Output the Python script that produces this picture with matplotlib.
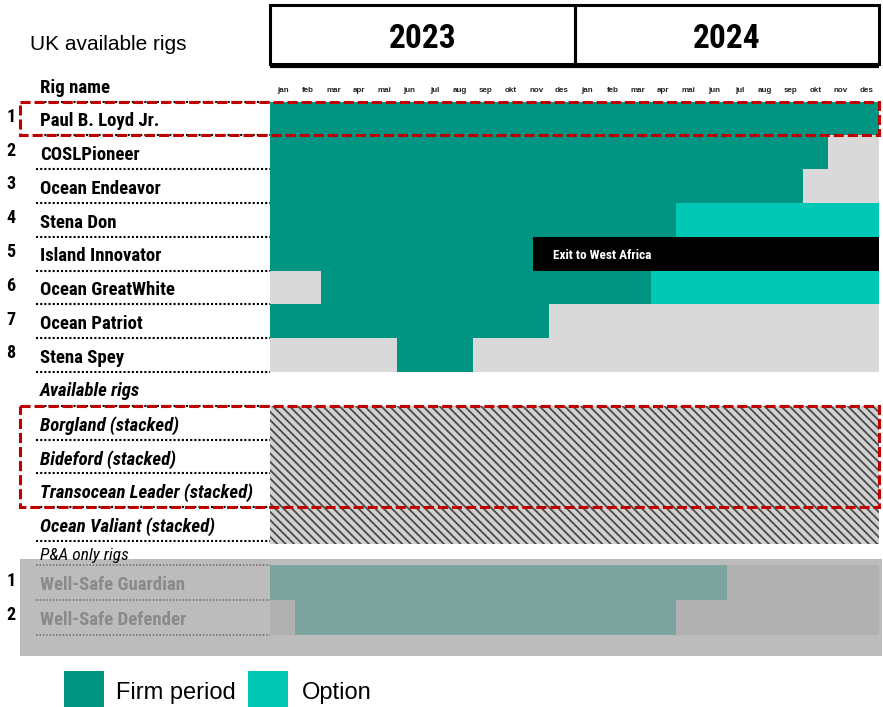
import matplotlib.pyplot as plt
import matplotlib.transforms as mtransforms
from matplotlib.patches import Rectangle

# ---- data ----
years = ["2023", "2024"]
months = ["jan", "feb", "mar", "apr", "mai", "jun", "jul", "aug", "sep", "okt", "nov", "des"]

rigs = ["Paul B. Loyd Jr.", "COSLPioneer", "Ocean Endeavor", "Stena Don",
        "Island Innovator", "Ocean GreatWhite", "Ocean Patriot", "Stena Spey"]
firm_start = [0, 0, 0, 0, 0, 2, 0, 5]
firm_end = [24, 22, 21, 16, 24, 15, 11, 8]
option_start = [None, None, None, 16, None, 15, None, None]
option_end = [None, None, None, 24, None, 24, None, None]

exit_rig = "Island Innovator"
exit_start = 10.35
exit_label = "Exit to West Africa"

stacked_rigs = ["Borgland (stacked)", "Bideford (stacked)",
                "Transocean Leader (stacked)", "Ocean Valiant (stacked)"]

pa_rigs = ["Well-Safe Guardian", "Well-Safe Defender"]
pa_start = [0, 1]
pa_end = [18, 16]

# ---- style ----
FIRM = "#009482"
OPTION = "#00c8b4"
IDLE = "#d9d9d9"
PA_FIRM = "#7da39e"
PA_IDLE = "#b1b1b1"
PA_BG = "#bcbcbc"
RED = "#c00000"
NARROW = ["Roboto Condensed", "DejaVu Sans"]
LBL = 13.5
plt.rcParams["font.family"] = ["Liberation Sans", "DejaVu Sans"]
plt.rcParams["hatch.linewidth"] = 1.3

fig = plt.figure(figsize=(8.83, 7.07), dpi=100)
W, H = 883, 707

# background axes in pixel units for layout pieces
bg = fig.add_axes([0, 0, 1, 1])
bg.set_xlim(0, W)
bg.set_ylim(H, 0)
bg.axis("off")

# gantt axes: x in months, y in rows
top_px, bot_px = 101.5, 635
ax = fig.add_axes([270 / W, 1 - bot_px / H, 609 / W, (bot_px - top_px) / H])
ax.set_xlim(0, 24)
ax.set_ylim(15.78, 0)
ax.axis("off")
ax.patch.set_alpha(0)

lbl = mtransforms.blended_transform_factory(bg.transData, ax.transData)
hdr = mtransforms.blended_transform_factory(ax.transData, bg.transData)

# P&A grey panel
bg.add_patch(Rectangle((20, 559), 862, 97, facecolor=PA_BG, edgecolor="none", zorder=0))

# main rigs
for i, name in enumerate(rigs):
    ax.barh(i, 24, left=0, height=1, align="edge", color=IDLE, linewidth=0)
    ax.barh(i, firm_end[i] - firm_start[i], left=firm_start[i], height=1,
            align="edge", color=FIRM, linewidth=0)
    if option_start[i] is not None:
        ax.barh(i, option_end[i] - option_start[i], left=option_start[i], height=1,
                align="edge", color=OPTION, linewidth=0)
    if name == exit_rig:
        ax.barh(i, 24 - exit_start, left=exit_start, height=1, align="edge",
                color="black", linewidth=0)
        ax.text(exit_start + 0.8, i + 0.55, exit_label, color="white", fontsize=9.5,
                fontweight="bold", va="center", family=NARROW)
    bg.text(11, i + 0.45, str(i + 1), transform=lbl, fontsize=13, fontweight="bold",
            ha="center", va="center", family=NARROW)
    bg.text(40, i + 0.58, name, transform=lbl, fontsize=LBL, fontweight="bold",
            va="center", family=NARROW)

# available (stacked) rigs
hdr_row = len(rigs)
bg.text(40, hdr_row + 0.55, "Available rigs", transform=lbl, fontsize=LBL,
        fontweight="bold", style="italic", va="center", family=NARROW)
for j, name in enumerate(stacked_rigs):
    r = hdr_row + 1 + j
    ax.barh(r, 24, left=0, height=1 if j < len(stacked_rigs) - 1 else 1.1, align="edge",
            color="#d2d2d2", edgecolor="#4a4a4a", hatch="\\\\\\\\", linewidth=0)
    bg.text(40, r + 0.58, name, transform=lbl, fontsize=LBL, fontweight="bold",
            style="italic", va="center", family=NARROW)

# P&A rigs
pa_top = 13.72
pa_h = 1.03
bg.text(40, pa_top - 0.3, "P&A only rigs", transform=lbl, fontsize=12.5,
        style="italic", va="center", family=NARROW)
for k, name in enumerate(pa_rigs):
    r = pa_top + k * pa_h
    ax.barh(r, 24, left=0, height=pa_h, align="edge", color=PA_IDLE, linewidth=0)
    ax.barh(r, pa_end[k] - pa_start[k], left=pa_start[k], height=pa_h, align="edge",
            color=PA_FIRM, linewidth=0)
    bg.text(11, r + 0.45, str(k + 1), transform=lbl, fontsize=13, fontweight="bold",
            ha="center", va="center", family=NARROW)
    bg.text(40, r + 0.58, name, transform=lbl, fontsize=LBL, fontweight="bold",
            color="#8a8a8a", va="center", family=NARROW)

# dotted separators in label column
sep_rows = list(range(0, len(rigs) + 1)) + [hdr_row + 1 + j for j in range(len(stacked_rigs) + 1)]
for y in sep_rows:
    bg.plot([36, 270], [y, y], transform=lbl, color="black", lw=1.5,
            linestyle=(0, (1, 1)), zorder=2)
for k in range(len(pa_rigs) + 1):
    y = pa_top + k * pa_h
    bg.plot([36, 270], [y, y], transform=lbl, color="#777777", lw=1.2,
            linestyle=(0, (1, 1)), zorder=2)

# red dashed highlight boxes
for y0, h in [(0, 1), (hdr_row + 1, 3)]:
    ax.add_patch(Rectangle((20, y0), 859, h, transform=lbl, fill=False, edgecolor=RED,
                           lw=2.2, linestyle=(0, (3.3, 1.3)), clip_on=False, zorder=5))

# year header boxes + month labels
for y_i, yr in enumerate(years):
    bg.add_patch(Rectangle((12 * y_i, 5), 12, 59, transform=hdr, fill=False,
                           edgecolor="black", lw=2.2, zorder=3))
    bg.text(12 * y_i + 6, 39, yr, transform=hdr, fontsize=24, fontweight="bold",
            ha="center", va="center", family=NARROW)
    for m, mon in enumerate(months):
        bg.text(12 * y_i + m + 0.5, 90, mon, transform=hdr, fontsize=5.8,
                fontweight="bold", ha="center", va="center", color="#222222")
bg.plot([0, 24], [65.5, 65.5], transform=hdr, color="black", lw=3, solid_capstyle="butt")

bg.text(30, 45, "UK available rigs", fontsize=15, va="center")
bg.text(40, 88, "Rig name", fontsize=LBL, fontweight="bold", va="center", family=NARROW)

# legend
bg.add_patch(Rectangle((64, 671), 40, 37, facecolor=FIRM, edgecolor="none"))
bg.text(116, 693, "Firm period", fontsize=17, va="center")
bg.add_patch(Rectangle((248, 671), 40, 37, facecolor=OPTION, edgecolor="none"))
bg.text(302, 693, "Option", fontsize=17, va="center")

fig.savefig("out.png", dpi=100)
